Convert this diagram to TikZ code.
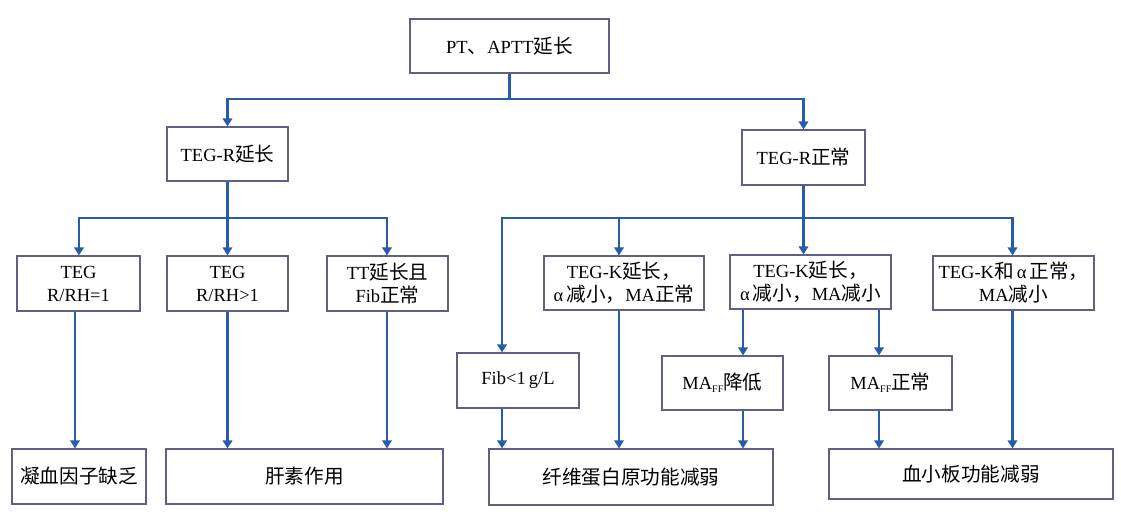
\documentclass[tikz,border=0pt]{standalone}
\usepackage{fontspec}
\setmainfont{Liberation Serif}
\newfontfamily\cjk[Scale=1.06]{Noto Sans CJK SC}
\usetikzlibrary{arrows.meta}
\definecolor{lineblue}{RGB}{40,92,168}
\definecolor{boxgray}{RGB}{95,95,135}
\newcommand{\ffsub}{\raisebox{-3.5pt}{\fontsize{10}{10}\selectfont FF}}
\tikzset{
  box/.style={draw=boxgray, line width=1.2pt, fill=white, align=center, inner sep=0pt,
              font=\fontsize{18.5}{23}\selectfont},
  conn/.style={draw=lineblue, line width=2.9pt, -{Triangle[length=8pt,width=9.5pt]}}
}
\begin{document}
\begin{tikzpicture}[x=1pt,y=-1pt]
\useasboundingbox[fill=white] (0,0) rectangle (1121,532);
% level 1
\node[box, minimum width=199pt, minimum height=54pt] (top) at (509.5,46) {PT{\cjk 、}APTT{\cjk 延长}};
% level 2
\node[box, minimum width=121pt, minimum height=54pt] (R1) at (227.5,154) {TEG-R{\cjk 延长}};
\node[box, minimum width=123pt, minimum height=55pt] (R2) at (803.5,157.5) {TEG-R{\cjk 正常}};
% level 3
\node[box, minimum width=123pt, minimum height=55pt] (A) at (78.5,283.5) {TEG\\R/RH=1};
\node[box, minimum width=121pt, minimum height=55pt] (B) at (227.5,283.5) {TEG\\R/RH>1};
\node[box, minimum width=121pt, minimum height=55pt] (C) at (387.5,283.5) {TT{\cjk 延长且}\\Fib{\cjk 正常}};
\node[box, minimum width=160pt, minimum height=54pt] (D) at (624,283) {TEG-K{\cjk 延长，}\\α\,{\cjk 减小，}MA{\cjk 正常}};
\node[box, minimum width=161pt, minimum height=54pt] (E) at (810.5,282) {TEG-K{\cjk 延长，}\\α\,{\cjk 减小，}MA{\cjk 减小}};
\node[box, minimum width=161pt, minimum height=54pt] (F) at (1013.5,283) {TEG-K{\cjk 和}\,α\,{\cjk 正常，}\\MA{\cjk 减小}};
% level 4
\node[box, minimum width=122pt, minimum height=55pt] (Fib) at (518,380.5) {Fib<1\,g/L};
\node[box, minimum width=121pt, minimum height=54pt] (M1) at (722.5,383) {MA\ffsub{\cjk 降低}};
\node[box, minimum width=123pt, minimum height=54pt] (M2) at (890.5,383) {MA\ffsub{\cjk 正常}};
% level 5
\node[box, minimum width=134pt, minimum height=55pt] (G1) at (79,476.5) {\cjk 凝血因子缺乏};
\node[box, minimum width=277pt, minimum height=55pt] (G2) at (304.5,476.5) {\cjk 肝素作用};
\node[box, minimum width=284pt, minimum height=56pt] (G3) at (631,477) {\cjk 纤维蛋白原功能减弱};
\node[box, minimum width=284pt, minimum height=50pt] (G4) at (971,474) {\cjk 血小板功能减弱};
% helper coordinates
\coordinate (j1) at (0,99);
\coordinate (j2) at (0,218);
\coordinate (xA) at (79,0);
\coordinate (xAo) at (75,0);
\coordinate (xB) at (227.5,0);
\coordinate (xC) at (387,0);
\coordinate (xFib) at (502,0);
\coordinate (xD) at (619,0);
\coordinate (xE1) at (743,0);
\coordinate (xE2) at (879,0);
\coordinate (xF) at (1012.5,0);
% connectors level 1 -> 2
\draw[conn] (top.south) -- (top.south |- j1) -| (R1.north);
\draw[conn] (top.south) -- (top.south |- j1) -| (R2.north);
% R1 -> A, B, C
\draw[conn] (R1.south) -- (R1.south |- j2) -| (xA |- A.north);
\draw[conn] (R1.south) -- (xB |- B.north);
\draw[conn] (R1.south) -- (R1.south |- j2) -| (xC |- C.north);
% R2 -> Fib, D, E, F
\draw[conn] (R2.south) -- (R2.south |- j2) -| (xFib |- Fib.north);
\draw[conn] (R2.south) -- (R2.south |- j2) -| (xD |- D.north);
\draw[conn] (R2.south) -- (E.north -| R2.south);
\draw[conn] (R2.south) -- (R2.south |- j2) -| (xF |- F.north);
% level 3 -> 4
\draw[conn] (xE1 |- E.south) -- (xE1 |- M1.north);
\draw[conn] (xE2 |- E.south) -- (xE2 |- M2.north);
% to level 5
\draw[conn] (xAo |- A.south) -- (xAo |- G1.north);
\draw[conn] (xB |- B.south) -- (xB |- G2.north);
\draw[conn] (xC |- C.south) -- (xC |- G2.north);
\draw[conn] (xFib |- Fib.south) -- (xFib |- G3.north);
\draw[conn] (xD |- D.south) -- (xD |- G3.north);
\draw[conn] (xE1 |- M1.south) -- (xE1 |- G3.north);
\draw[conn] (xE2 |- M2.south) -- (xE2 |- G4.north);
\draw[conn] (xF |- F.south) -- (xF |- G4.north);
\end{tikzpicture}
\end{document}
